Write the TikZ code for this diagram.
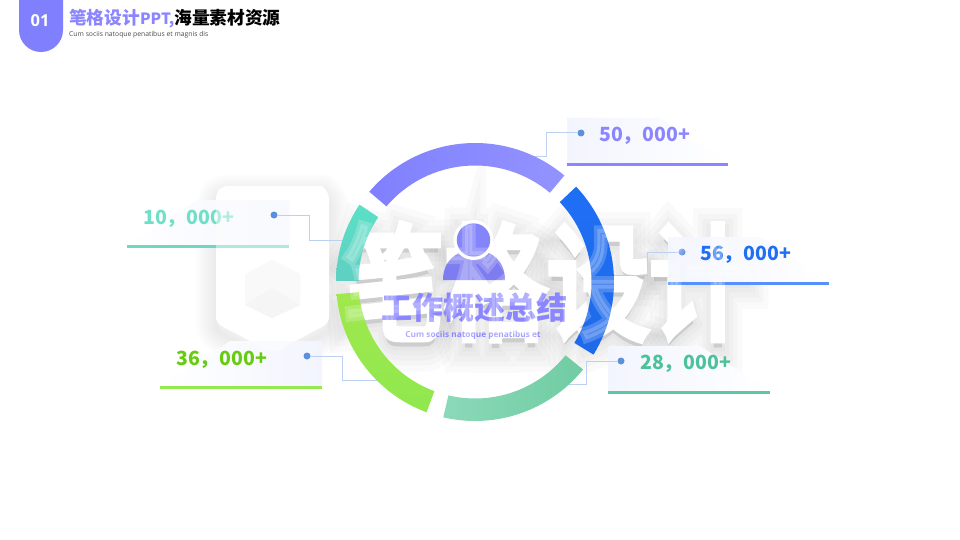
\documentclass[tikz,border=0pt]{standalone}
\usepackage{fontspec}
\usepackage{tikz}
\usetikzlibrary{positioning,arrows.meta,shapes.geometric}
\setmainfont{Noto Sans}
\newfontfamily\cjk{Noto Sans CJK SC}
\newfontfamily\opensans{Open Sans}
\newfontfamily\wmfatone[FakeBold=6]{Noto Sans CJK SC}
\newfontfamily\wmfattwo[FakeBold=14]{Noto Sans CJK SC}
\newfontfamily\wmfatthree[FakeBold=22]{Noto Sans CJK SC}
\newfontfamily\wmfatfour[FakeBold=30]{Noto Sans CJK SC}
\newfontfamily\wmfatfive[FakeBold=40]{Noto Sans CJK SC}
\definecolor{tabpurple}{HTML}{8080FF}
\definecolor{personbody}{HTML}{7D7CF0}
\definecolor{personhead}{HTML}{8585FB}
\definecolor{leadblue}{HTML}{BCD0F2}
\definecolor{dotblue}{HTML}{5B8FE0}
\definecolor{paneltint}{HTML}{F3F5FE}
\definecolor{tealtext}{HTML}{6FE0C8}
\definecolor{limetext}{HTML}{66CC11}
\definecolor{purpletext}{HTML}{8B86FF}
\definecolor{bluetext}{HTML}{1F6FF5}
\definecolor{seatext}{HTML}{4CC29A}
\definecolor{blueline}{HTML}{5590FB}
\definecolor{sealine}{HTML}{5BC8A0}
\definecolor{tealline}{HTML}{6ED8C4}
\definecolor{limeline}{HTML}{95E84E}
\definecolor{seadark}{HTML}{70CCA2}
\definecolor{sealight}{HTML}{8BD9B9}
\definecolor{limetop}{HTML}{A0E84E}
\definecolor{limebottom}{HTML}{8FE84E}
\definecolor{tealtop}{HTML}{5BE0C6}
\definecolor{tealbottom}{HTML}{5FCFC2}
\tikzstyle{valuetext} = [
font=\cjk\bfseries\fontsize{19.5}{22}\selectfont,
inner sep=0pt,
anchor=west
]
\tikzstyle{dotmark} = [
circle,
fill=dotblue,
inner sep=0pt,
minimum size=7pt
]
\tikzstyle{leadline} = [
draw=leadblue,
line width=1pt
]
\tikzstyle{wmark} = [
inner sep=0pt,
xscale=.82,
transform shape
]
\tikzstyle{wmshade} = [
wmark,
text=black,
opacity=.02
]
\newcommand{\ringseg}[3]{\shade[#3] ([shift={(ringc)}]-#1:139) arc[start angle=-#1,end angle=-#2,radius=139] -- ([shift={(ringc)}]-#2:116.5) arc[start angle=-#2,end angle=-#1,radius=116.5] -- cycle;}
\newcommand{\wmhex}{(222,186) -- (322,186) [rounded corners=6pt] -- (329,193) -- (329,323) -- (273,353) -- (216,323) -- (216,193) -- cycle}

\begin{document}
\begin{tikzpicture}[x=1pt,y=-1pt]
	\useasboundingbox (0,0) rectangle (960,540);
	\fill[white] (0,0) rectangle (960,540);
	\coordinate (ringc) at (475,282);
	%Watermark
	\foreach \w in {4,8,12,16,20,24,28,32,36,40}{
		\draw[black,opacity=.008,line width=\w pt,line join=round,yshift=-8pt] \wmhex;
	}
	\node[wmshade,font=\wmfatfive\fontsize{125}{130}\selectfont] (wmshadea) at (547,290) {笔格设计};
	\node[wmshade,font=\wmfatfour\fontsize{125}{130}\selectfont] (wmshadeb) at (547,290) {笔格设计};
	\node[wmshade,font=\wmfatthree\fontsize{125}{130}\selectfont] (wmshadec) at (547,290) {笔格设计};
	\node[wmshade,font=\wmfattwo\fontsize{125}{130}\selectfont] (wmshaded) at (547,290) {笔格设计};
	\node[wmshade,font=\wmfatone\fontsize{125}{130}\selectfont] (wmshadee) at (547,290) {笔格设计};
	\fill[white] \wmhex;
	\fill[gray!8] (245,274) -- (272,260) -- (300,274) -- (300,305) -- (272,318) -- (245,305) -- cycle;
	\fill[gray!14] (245,305) -- (272,288) -- (300,305) -- (272,318) -- cycle;
	\node[wmark,text=white,font=\wmfatone\fontsize{125}{130}\selectfont] (wmtext) at (547,282) {笔格设计};
	%Panels
	\shade[left color=paneltint,right color=white] (567,118) -- (660,118) -- (728,163) -- (567,163) -- cycle;
	\shade[left color=paneltint,right color=white] (668,237) -- (760,237) -- (829,282) -- (668,282) -- cycle;
	\shade[left color=paneltint,right color=white] (608,346) -- (700,346) -- (770,391) -- (608,391) -- cycle;
	\shade[right color=paneltint,left color=white] (289,200) -- (197,200) -- (127,245) -- (289,245) -- cycle;
	\shade[right color=paneltint,left color=white] (322,341) -- (230,341) -- (160,386) -- (322,386) -- cycle;
	\fill[purpletext] (567,163) rectangle (728,166);
	\fill[blueline] (668,282) rectangle (829,285);
	\fill[sealine] (608,391) rectangle (770,394);
	\fill[tealline] (127,245) rectangle (289,248);
	\fill[limeline] (160,386) rectangle (322,389);
	\node[valuetext,text=tealtext] (valten) at (143,219) {10，000+};
	\fill[white,opacity=.45] \wmhex;
	%Nodes
	\node[dotmark] (dotfifty) at (581,133) {};
	\node[dotmark] (dotfiftysix) at (682,252) {};
	\node[dotmark] (dottwentyeight) at (621,361) {};
	\node[dotmark] (dotten) at (274,215) {};
	\node[dotmark] (dotthirtysix) at (307,356) {};
	\coordinate (bendfifty) at (546,157);
	\coordinate (bendfiftysix) at (647,275);
	\coordinate (bendtwentyeight) at (586,384);
	\coordinate (bendten) at (309,240);
	\coordinate (bendthirtysix) at (342,380);
	\coordinate (ringfifty) at (530,157);
	\coordinate (ringfiftysix) at (613,275);
	\coordinate (ringtwentyeight) at (549,384);
	\coordinate (ringten) at (347,240);
	\coordinate (ringthirtysix) at (380,380);
	%Arrows
	\draw[leadline] (dotfifty.west) -| (bendfifty) -- (ringfifty);
	\draw[leadline] (dotfiftysix.west) -| (bendfiftysix) -- (ringfiftysix);
	\draw[leadline] (dottwentyeight.west) -| (bendtwentyeight) -- (ringtwentyeight);
	\draw[leadline] (dotten.east) -| (bendten) -- (ringten);
	\draw[leadline] (dotthirtysix.east) -| (bendthirtysix) -- (ringthirtysix);
	%Ring
	\ringseg{50}{139.5}{left color=tabpurple,right color=tabpurple!85!white}
	\ringseg{43.3}{-31.5}{top color=bluetext,bottom color=bluetext!95!black}
	\ringseg{-39}{-103.2}{right color=seadark,left color=sealight}
	\ringseg{185}{249.6}{top color=limetop,bottom color=limebottom}
	\ringseg{146.2}{179.5}{top color=tealtop,bottom color=tealbottom}
	%Person
	\fill[personbody] (443,280) .. controls (443,262) and (455,250) .. (474,250) .. controls (493,250) and (505,262) .. (505,280) -- cycle;
	\fill[white] (473.5,240) circle (20);
	\fill[personhead] (473.5,240) circle (16.7);
	%Labels
	\node[valuetext,text=purpletext] (valfifty) at (599,136) {50，000+};
	\node[valuetext,text=bluetext] (valfiftysix) at (700,255) {56，000+};
	\node[valuetext,text=seatext] (valtwentyeight) at (640,364) {28，000+};
	\node[valuetext,text=limetext] (valthirtysix) at (176,360) {36，000+};
	\node[inner sep=0pt,text=purpletext,font=\cjk\bfseries\fontsize{31}{34}\selectfont] (maintitle) at (474,308) {工作概述总结};
	\node[inner sep=0pt,text=purpletext,font=\opensans\bfseries\fontsize{8.3}{10}\selectfont] (mainsub) at (473,335) {Cum sociis natoque penatibus et};
	%Header
	\fill[tabpurple] (19,0) -- (63,0) -- (63,30) arc[start angle=0,end angle=180,radius=22] -- cycle;
	\node[text=white,inner sep=0pt,font=\opensans\bfseries\fontsize{16.5}{18}\selectfont] (tabnum) at (40,21) {01};
	\node[anchor=west,inner sep=0pt,font=\cjk\bfseries\fontsize{17.7}{20}\selectfont] (headtitle) at (69,19) {\textcolor{purpletext}{笔格设计{\fontsize{15.5}{18}\selectfont PPT,}}海量素材资源};
	\node[anchor=west,inner sep=0pt,text=black!70,font=\opensans\fontsize{6.8}{8}\selectfont] (headsub) at (69,35) {Cum sociis natoque penatibus et magnis dis};
	%Watermark over
	\node[wmark,text=white,opacity=.2,font=\wmfatone\fontsize{125}{130}\selectfont] (wmover) at (547,282) {笔格设计};
\end{tikzpicture}
\end{document}
